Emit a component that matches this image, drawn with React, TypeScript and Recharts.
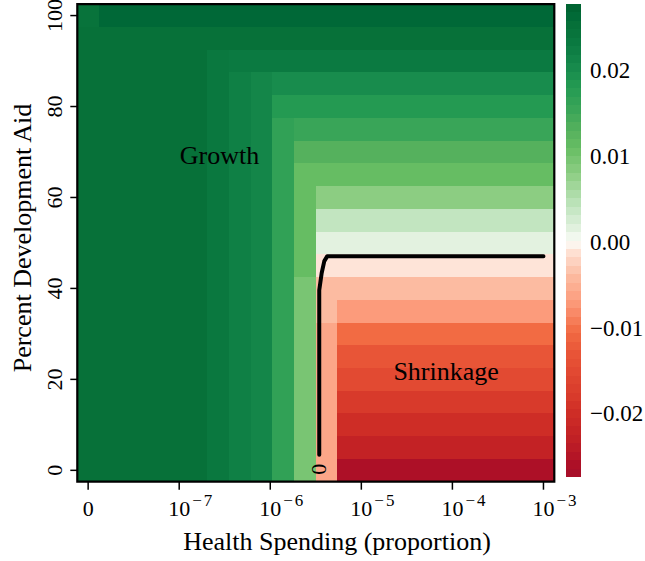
import React from 'react';
import { ScatterChart, Scatter, XAxis, YAxis, ReferenceArea, ReferenceDot } from 'recharts';

// health spending columns as log10(proportion); the first column is spending 0, drawn in the -8 slot
const healthLog10 = [-8, -7.762, -7.524, -7.286, -7.048, -6.81, -6.571, -6.333, -6.095, -5.857, -5.619,
    -5.381, -5.143, -4.905, -4.667, -4.429, -4.19, -3.952, -3.714, -3.476, -3.238, -3];

// percent development aid, top row first
const aidPercent = [100, 95, 90, 85, 80, 75, 70, 65, 60, 55, 50, 45, 40, 35, 30, 25, 20, 15, 10, 5, 0];

// growth rate in thousandths, one row per aid level (same order as aidPercent), one value per column
const growthRows = [
    [24.5, 26.5, 26.5, 26.5, 26.5, 26.5, 26.5, 26.5, 26.5, 26.5, 26.5, 26.5, 26.5, 26.5, 26.5, 26.5, 26.5, 26.5, 26.5, 26.5, 26.5, 26.5],
    [25, 25, 25, 25, 25, 25, 25, 25, 25, 25, 25, 25, 25, 25, 25, 25, 25, 25, 25, 25, 25, 25],
    [25, 25, 25, 25, 25, 25, 23.5, 23, 23, 23, 23, 23, 23, 23, 23, 23, 23, 23, 23, 23, 23, 23],
    [25, 25, 25, 25, 25, 25, 23.5, 22, 21, 20, 20, 20, 20, 20, 20, 20, 20, 20, 20, 20, 20, 20],
    [25, 25, 25, 25, 25, 25, 23.5, 22, 21, 18, 18, 18, 18, 18, 18, 18, 18, 18, 18, 18, 18, 18],
    [25, 25, 25, 25, 25, 25, 23.5, 22, 21, 16.5, 15.5, 15.5, 15.5, 15.5, 15.5, 15.5, 15.5, 15.5, 15.5, 15.5, 15.5, 15.5],
    [25, 25, 25, 25, 25, 25, 23.5, 22, 21, 16.5, 13, 13, 13, 13, 13, 13, 13, 13, 13, 13, 13, 13],
    [25, 25, 25, 25, 25, 25, 23.5, 22, 21, 16.5, 11, 11, 11, 11, 11, 11, 11, 11, 11, 11, 11, 11],
    [25, 25, 25, 25, 25, 25, 23.5, 22, 21, 16.5, 11, 8, 8, 8, 8, 8, 8, 8, 8, 8, 8, 8],
    [25, 25, 25, 25, 25, 25, 23.5, 22, 21, 16.5, 11, 4, 4, 4, 4, 4, 4, 4, 4, 4, 4, 4],
    [25, 25, 25, 25, 25, 25, 23.5, 22, 21, 16.5, 11, 1.5, 1.5, 1.5, 1.5, 1.5, 1.5, 1.5, 1.5, 1.5, 1.5, 1.5],
    [25, 25, 25, 25, 25, 25, 23.5, 22, 21, 16.5, 11, -1, -1, -1, -1, -1, -1, -1, -1, -1, -1, -1],
    [25, 25, 25, 25, 25, 25, 23.5, 22, 21, 16.5, 9.5, -4, -4, -4, -4, -4, -4, -4, -4, -4, -4, -4],
    [25, 25, 25, 25, 25, 25, 23.5, 22, 21, 16.5, 9.5, -4, -7, -7, -7, -7, -7, -7, -7, -7, -7, -7],
    [25, 25, 25, 25, 25, 25, 23.5, 22, 21, 16.5, 9.5, -6, -10.5, -10.5, -10.5, -10.5, -10.5, -10.5, -10.5, -10.5, -10.5, -10.5],
    [25, 25, 25, 25, 25, 25, 23.5, 22, 21, 16.5, 9.5, -6, -13, -13, -13, -13, -13, -13, -13, -13, -13, -13],
    [25, 25, 25, 25, 25, 25, 23.5, 22, 21, 16.5, 9.5, -6, -15, -15, -15, -15, -15, -15, -15, -15, -15, -15],
    [25, 25, 25, 25, 25, 25, 23.5, 22, 21, 16.5, 9.5, -6, -18, -18, -18, -18, -18, -18, -18, -18, -18, -18],
    [25, 25, 25, 25, 25, 25, 23.5, 22, 21, 16.5, 9.5, -6, -20, -20, -20, -20, -20, -20, -20, -20, -20, -20],
    [25, 25, 25, 25, 25, 25, 23.5, 22, 21, 16.5, 9.5, -6, -22.5, -22.5, -22.5, -22.5, -22.5, -22.5, -22.5, -22.5, -22.5, -22.5],
    [25, 25, 25, 25, 25, 25, 23.5, 22, 21, 16.5, 9.5, -6, -26, -26, -26, -26, -26, -26, -26, -26, -26, -26],
];

// zero contour line
const contourSpending = [3.45e-6, 3.45e-6, 3.67e-6, 3.92e-6, 4.23e-6, 1e-3];
const contourAid = [3.4, 39.6, 43.4, 46.0, 47.1, 47.1];

// colour scale (value -> colour)
const colorStopValues = [0.0277, 0.0265, 0.025, 0.023, 0.02, 0.018, 0.0155, 0.013, 0.011, 0.008, 0.004, 0.0015, 0,
    -0.001, -0.004, -0.007, -0.0105, -0.013, -0.015, -0.018, -0.02, -0.0225, -0.026, -0.0274];
const colorStopColors = ['#00622f', '#006837', '#077139', '#0b7a41', '#188c4d', '#249a52', '#39a558', '#55b15d', '#66bd63',
    '#8ccd82', '#c2e5c0', '#e3f2e0', '#fbfcf8', '#fee4d8', '#fcbba1', '#fc9b7b', '#f26b43', '#e85537', '#e24a32',
    '#d83a2b', '#ce2d26', '#c32225', '#ad1027', '#a50f2a'];

const xTicks = [-8, -7, -6, -5, -4, -3];
const yTicks = [0, 20, 40, 60, 80, 100];
const keyTicks = [-0.02, -0.01, 0, 0.01, 0.02];
const keyLabels = ['\u22120.02', '\u22120.01', '0.00', '0.01', '0.02'];

const Z_MIN = -0.0274;
const Z_MAX = 0.0277;
const FONT = '"Liberation Serif", "Times New Roman", serif';

function hexRgb(h: string) {
    return [1, 3, 5].map((i) => parseInt(h.slice(i, i + 2), 16));
}

function zColor(z: number) {
    const v = colorStopValues;
    if (z >= v[0]) return colorStopColors[0];
    for (let i = 1; i < v.length; i++) {
        if (z >= v[i]) {
            const t = (v[i - 1] - z) / (v[i - 1] - v[i]);
            const a = hexRgb(colorStopColors[i - 1]);
            const b = hexRgb(colorStopColors[i]);
            const c = a.map((av, k) => Math.round(av + (b[k] - av) * t));
            return `rgb(${c[0]},${c[1]},${c[2]})`;
        }
    }
    return colorStopColors[colorStopColors.length - 1];
}

const colHalf = (healthLog10[1] - healthLog10[0]) / 2;
const rowHalf = (aidPercent[0] - aidPercent[1]) / 2;
const X_MIN = healthLog10[0] - colHalf;
const X_MAX = healthLog10[healthLog10.length - 1] + colHalf;
const Y_MIN = aidPercent[aidPercent.length - 1] - rowHalf;
const Y_MAX = aidPercent[0] + rowHalf;

const cells = aidPercent.flatMap((aid, r) =>
    healthLog10.map((hx, c) => ({
        x1: hx - colHalf, x2: hx + colHalf, y1: aid - rowHalf, y2: aid + rowHalf,
        fill: zColor(growthRows[r][c] / 1000),
    }))
);

const contourData = contourSpending.map((s, i) => ({ x: Math.log10(s), y: contourAid[i] }));

// colour key bands
const KEY_BANDS = 56;
const keyBands = Array.from({ length: KEY_BANDS }, (_, i) => {
    const lo = Z_MIN + ((Z_MAX - Z_MIN) * i) / KEY_BANDS;
    const hi = Z_MIN + ((Z_MAX - Z_MIN) * (i + 1)) / KEY_BANDS;
    return { lo, hi, fill: zColor((lo + hi) / 2) };
});

function XTick({ x, y, payload }: any) {
    const v = payload.value;
    if (v === -8) {
        return <text x={x} y={y + 24} textAnchor="middle" fontSize={22} fill="#000" fontFamily={FONT}>0</text>;
    }
    return (
        <g fontFamily={FONT} fill="#000">
            <text x={x} y={y + 24} textAnchor="middle" fontSize={22}>10</text>
            <text x={x + 13} y={y + 14} fontSize={17}>{'\u2212'}<tspan dx={2}>{-v}</tspan></text>
        </g>
    );
}

function YTick({ x, y, payload }: any) {
    return (
        <text x={x - 6} y={y} transform={`rotate(-90 ${x - 6} ${y})`} textAnchor="middle" fontSize={22}
            fill="#000" fontFamily={FONT}>{payload.value}</text>
    );
}

function KeyTick({ y, payload }: any) {
    const i = keyTicks.indexOf(payload.value);
    return (
        <text x={590} y={y + 8} fontSize={23} fill="#000" fontFamily={FONT}>{keyLabels[i]}</text>
    );
}

export default function App() {
    return (
        <div style={{ position: 'absolute', left: 0, top: 0, width: 645, height: 561, background: '#fff', fontFamily: FONT }}>
            <div style={{ position: 'absolute', left: 0, top: 0 }}>
                <ScatterChart width={645} height={561} margin={{ top: 4.2, right: 90.7, bottom: 0, left: 0 }}>
                    <XAxis type="number" dataKey="x" domain={[X_MIN, X_MAX]} ticks={xTicks} interval={0}
                        allowDataOverflow height={79.3} axisLine={false} tickSize={8}
                        tickLine={{ stroke: '#000', strokeWidth: 1.5 }} tick={<XTick />}
                        label={{
                            content: () => (
                                <text x={337} y={550} textAnchor="middle" fontSize={26} fill="#000" fontFamily={FONT}>
                                    Health Spending (proportion)
                                </text>
                            ),
                        }} />
                    <YAxis type="number" dataKey="y" domain={[Y_MIN, Y_MAX]} ticks={yTicks} interval={0}
                        allowDataOverflow width={77.3} axisLine={false} tickSize={7}
                        tickLine={{ stroke: '#000', strokeWidth: 1.5 }} tick={<YTick />}
                        label={{
                            content: () => (
                                <text x={31} y={238} transform="rotate(-90 31 238)" textAnchor="middle" fontSize={26}
                                    fill="#000" fontFamily={FONT}>
                                    Percent Development Aid
                                </text>
                            ),
                        }} />
                    {cells.map((c, i) => (
                        <ReferenceArea key={`cell-${i}`} x1={c.x1} x2={c.x2} y1={c.y1} y2={c.y2} fill={c.fill}
                            fillOpacity={1} stroke="none" shapeRendering="crispEdges" ifOverflow="visible" />
                    ))}
                    <Scatter data={contourData} isAnimationActive={false} lineType="joint"
                        line={{ stroke: '#000', strokeWidth: 4, strokeLinecap: 'round', strokeLinejoin: 'round' }}
                        shape={() => <g />} />
                    <ReferenceDot x={-5.473} y={0.22} r={0} ifOverflow="visible"
                        shape={(p: any) => (
                            <text x={p.cx} y={p.cy} transform={`rotate(-90 ${p.cx} ${p.cy})`} textAnchor="middle"
                                dominantBaseline="central" fontSize={22} fill="#000" fontFamily={FONT}>0</text>
                        )} />
                    <ReferenceDot x={-6.558} y={67.3} r={0}
                        shape={(p: any) => (
                            <text x={p.cx} y={p.cy} textAnchor="middle" fontSize={26} fill="#000" fontFamily={FONT}>Growth</text>
                        )} />
                    <ReferenceDot x={-4.069} y={19.85} r={0}
                        shape={(p: any) => (
                            <text x={p.cx} y={p.cy} textAnchor="middle" fontSize={26} fill="#000" fontFamily={FONT}>Shrinkage</text>
                        )} />
                    <ReferenceArea x1={X_MIN} x2={X_MAX} y1={Y_MIN} y2={Y_MAX} fill="none" fillOpacity={0}
                        stroke="#000" strokeWidth={2.2} ifOverflow="visible" />
                </ScatterChart>
            </div>
            <div style={{ position: 'absolute', left: 0, top: 0 }}>
                <ScatterChart width={645} height={561} margin={{ top: 4, right: 0, bottom: 84, left: 566 }}>
                    <XAxis type="number" dataKey="x" domain={[0, 1]} hide allowDataOverflow />
                    <YAxis type="number" dataKey="y" orientation="right" domain={[Z_MIN, Z_MAX]} ticks={keyTicks}
                        interval={0} allowDataOverflow width={64} axisLine={false} tickLine={false} tick={<KeyTick />} />
                    {keyBands.map((b, i) => (
                        <ReferenceArea key={`band-${i}`} x1={0} x2={1} y1={b.lo} y2={b.hi} fill={b.fill} fillOpacity={1}
                            stroke="none" shapeRendering="crispEdges" ifOverflow="visible" />
                    ))}
                </ScatterChart>
            </div>
        </div>
    );
}
